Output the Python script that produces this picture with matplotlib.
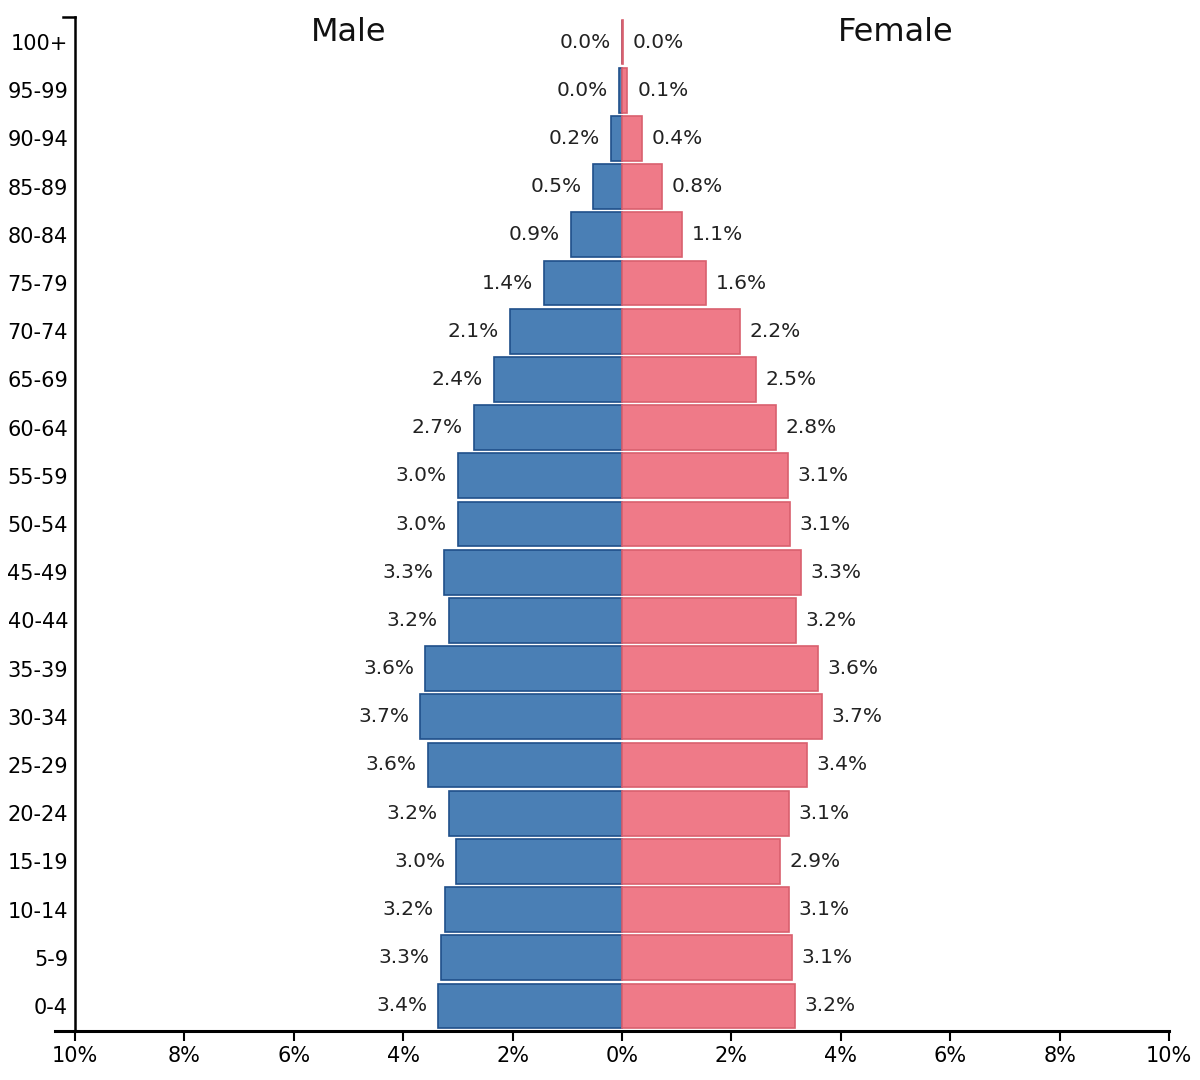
import matplotlib
matplotlib.use("Agg")
import matplotlib.pyplot as plt
from matplotlib.lines import Line2D

age_groups = ["0-4", "5-9", "10-14", "15-19", "20-24", "25-29", "30-34", "35-39",
              "40-44", "45-49", "50-54", "55-59", "60-64", "65-69", "70-74",
              "75-79", "80-84", "85-89", "90-94", "95-99", "100+"]
male_values = [3.36, 3.31, 3.24, 3.03, 3.16, 3.55, 3.69, 3.60, 3.16, 3.25, 3.00,
               3.00, 2.71, 2.34, 2.05, 1.43, 0.93, 0.53, 0.20, 0.05, 0.005]
female_values = [3.16, 3.11, 3.05, 2.89, 3.05, 3.38, 3.66, 3.58, 3.18, 3.27, 3.07,
                 3.03, 2.82, 2.45, 2.16, 1.54, 1.10, 0.73, 0.37, 0.10, 0.01]
male_labels = ["3.4%", "3.3%", "3.2%", "3.0%", "3.2%", "3.6%", "3.7%", "3.6%",
               "3.2%", "3.3%", "3.0%", "3.0%", "2.7%", "2.4%", "2.1%", "1.4%",
               "0.9%", "0.5%", "0.2%", "0.0%", "0.0%"]
female_labels = ["3.2%", "3.1%", "3.1%", "2.9%", "3.1%", "3.4%", "3.7%", "3.6%",
                 "3.2%", "3.3%", "3.1%", "3.1%", "2.8%", "2.5%", "2.2%", "1.6%",
                 "1.1%", "0.8%", "0.4%", "0.1%", "0.0%"]
x_ticks = [-10, -8, -6, -4, -2, 0, 2, 4, 6, 8, 10]
x_tick_labels = ["10%", "8%", "6%", "4%", "2%", "0%", "2%", "4%", "6%", "8%", "10%"]

fig = plt.figure(figsize=(12, 10.8), dpi=100)
ax = fig.add_axes([75 / 1200, 1 - 1031 / 1080, (1169 - 75) / 1200, (1031 - 17) / 1080])

y = list(range(len(age_groups)))
male_neg = [-v for v in male_values]
ax.barh(y, male_neg, height=0.93, color="#4a7fb5", edgecolor="#1f4f8a", linewidth=1.2)
ax.barh(y, female_values, height=0.93, color="#ef7a88", edgecolor="#d9606e", linewidth=1.2)

for yi, v, lab in zip(y, male_values, male_labels):
    ax.annotate(lab, xy=(-v, yi), xytext=(-8, 0), textcoords="offset points",
                ha="right", va="center", fontsize=14.5, color="#222222")
for yi, v, lab in zip(y, female_values, female_labels):
    ax.annotate(lab, xy=(v, yi), xytext=(7, 0), textcoords="offset points",
                ha="left", va="center", fontsize=14.5, color="#222222")

ax.set_xlim(-10, 10)
ax.set_ylim(-0.52, len(age_groups) - 0.48)
ax.set_xticks(x_ticks)
ax.set_xticklabels(x_tick_labels, fontsize=15)
ax.set_yticks(y)
ax.set_yticklabels(age_groups, fontsize=15)
ax.tick_params(axis="y", length=0, pad=5)
ax.tick_params(axis="x", length=7, width=1.5, pad=4, direction="out")

for s in ["top", "right"]:
    ax.spines[s].set_visible(False)
ax.spines["left"].set_linewidth(1.8)
ax.spines["bottom"].set_linewidth(2.2)
ax.spines["bottom"].set_bounds(-10, 10)

# outer ticks of the axes (domain ends)
tr = ax.transAxes
fig_w = 1094.0
ax.add_line(Line2D([-12 / fig_w, 0], [1, 1], transform=tr, color="black", lw=1.8, clip_on=False))
ax.add_line(Line2D([-20 / fig_w, 0], [0, 0], transform=tr, color="black", lw=2.2, clip_on=False))

ax.text(-5, 1.0, "Male", transform=ax.get_xaxis_transform(), ha="center", va="top",
        fontsize=23, color="#111111")
ax.text(5, 1.0, "Female", transform=ax.get_xaxis_transform(), ha="center", va="top",
        fontsize=23, color="#111111")

fig.savefig("out.png", dpi=100)
